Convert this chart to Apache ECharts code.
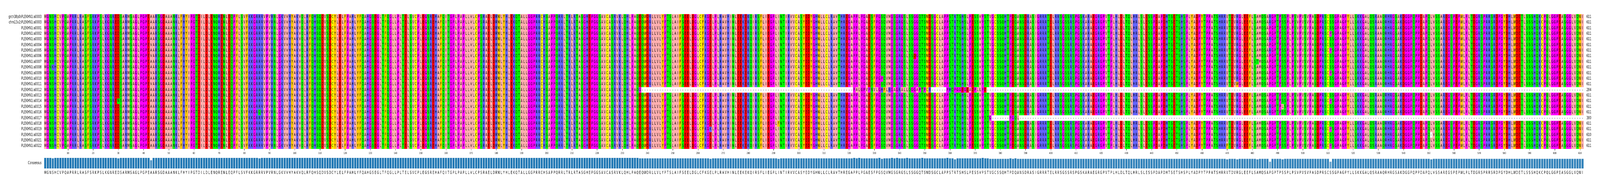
<!DOCTYPE html>
<html><head><meta charset="utf-8">
<style>html,body{margin:0;padding:0;background:#fff;overflow:hidden}#c{width:6400px;height:481px;transform-origin:0 0}</style>
<script src="https://cdn.jsdelivr.net/npm/echarts@6/dist/echarts.min.js"></script>
</head><body><div id="c"></div>
<script>
const rowLabels = ["grch38p0:PLEKHN1:a0003","chm13v2:PLEKHN1:a0003","PLEKHN1:a0001","PLEKHN1:a0002","PLEKHN1:a0003","PLEKHN1:a0004","PLEKHN1:a0005","PLEKHN1:a0006","PLEKHN1:a0007","PLEKHN1:a0008","PLEKHN1:a0009","PLEKHN1:a0010","PLEKHN1:a0011","PLEKHN1:a0012","PLEKHN1:a0013","PLEKHN1:a0014","PLEKHN1:a0015","PLEKHN1:a0016","PLEKHN1:a0017","PLEKHN1:a0018","PLEKHN1:a0019","PLEKHN1:a0020","PLEKHN1:a0021","PLEKHN1:a0022"];
const rowLengths = ["611","611","611","611","611","611","611","611","611","611","611","611","611","284","611","611","611","611","380","611","611","610","611","611"];
const consensusParts = [
"MGNSHCVPQAPRRLRASFSRKPSLKGNREDSARMSAGLPGPEAARSGDAAANKLFHYIPGTDILDLENQRENLEQPFLSVFKKGRRRVPVRNLGKVVHYA",
"KVQLRFQHSQDVSDCYLELFPAHLYFQAHGSEGLTFQGLLPLTELSVCPLEGSREHAFQITGPLPAPLLVLCPSRAELDRWLYHLEKQTALLGGPRRCHS",
"APPQRRLTRLRTASGHEPGGSAVCASRVKLQHLPAQEQWDRLLVLYPTSLAIFSEELDGLCFKGELPLRAVHINLEEKEKQIRSFLIEGPLINTIRVVCA",
"SYEDYGHWLLCLRAVTHREGAPPLPGAESFPGSQVMGSGRGSLSSGGQTSWDSGCLAPPSTRTSHSLPESSVPSTVGCSSQHTPDQANSDRASIGRRRTE",
"LRRSGSSRSPGSKARAEGRGPVTPLHLDLTQLHRLSLESSPDAPDHTSETSHSPLYADPYTPPATSHRRVTDVRGLEEFLSAMQSAPGPTPSSPLPSVPV",
"SVPASDPRSCSSGPAGPYLLSKKGALQSRAAQRHRGSAKDGGPQPPDAPQLVSSAREGSPEPWLPLTDGRSPRRSRDPGYDHLWDETLSSSHQKCPQLGGPEASGGLVQWI"
];
// [row, first column (1-based), residues replacing the consensus there]
const changes = [
[9,4,"K"],[15,30,"N"],[17,86,"Q"],
[5,43,"V"],[7,43,"V"],[10,43,"V"],[12,43,"V"],[19,43,"V"],
[20,265,"K"],[19,292,"F"],
[11,333,"P"],[22,340,"Q"],[7,346,"D"],[11,362,"H"],[14,362,"H"],
[13,237,"G"],[13,322,"PALGPVPNVLGHFLRGAGRALLQGGAPTPCR"],[13,359,"PHQPGGEGEADPLLPD"],
[18,376,"G"],[18,384,"PGQL"],
[23,470,"F"],[12,474,"W"],[8,482,"T"],[16,492,"L"],
[0,487,"R"],[1,487,"R"],[4,487,"R"],[6,487,"R"],[16,487,"R"],[17,487,"R"],
[3,511,"P"],[6,511,"P"],[10,511,"P"],[15,511,"P"],[20,511,"P"],[23,511,"P"]
];
// [row, first column, last column] of alignment gaps
const gaps = [[13,238,321],[13,353,358],[13,375,611],[18,377,383],[18,388,611],[21,551,551]];
const zappo = {A:"#ffafaf",I:"#ffafaf",L:"#ffafaf",M:"#ffafaf",V:"#ffafaf",F:"#ffc800",W:"#ffc800",Y:"#ffc800",K:"#6464ff",R:"#6464ff",H:"#6464ff",D:"#ff0000",E:"#ff0000",S:"#00ff00",T:"#00ff00",N:"#00ff00",Q:"#00ff00",P:"#ff00ff",G:"#ff00ff",C:"#ffff00","-":"#ffffff"};

const consensus = consensusParts.join("").split("");
const columns = consensus.map((_, i) => String(i + 1));
const rows = rowLabels.map(() => consensus.slice());
changes.forEach(([r, c, s]) => s.split("").forEach((ch, k) => { rows[r][c - 1 + k] = ch; }));
gaps.forEach(([r, a, b]) => { for (let c = a; c <= b; c++) rows[r][c - 1] = "-"; });
const cells = [];
rows.forEach((seq, r) => seq.forEach((ch, c) => cells.push([c, r, ch])));
const identity = consensus.map((ch, c) => rows.filter(s => s[c] === ch).length / rows.length * 100);

// The browser window can be narrower than the 6400px page: fit the page to it.
const host = document.getElementById("c");
host.style.transform = "scaleX(" + Math.min(1, window.innerWidth / 6400) + ")";

const FONT = "DejaVu Sans";
const chart = echarts.init(host, null, {renderer: "canvas", width: 6400, height: 481});
chart.setOption({
  animation: false,
  backgroundColor: "#fff",
  grid: [
    {left: 176, top: 36, width: 6159, height: 345, containLabel: false},
    {left: 176, top: 403, width: 6159, height: 29, containLabel: false}
  ],
  xAxis: [
    {type: "category", gridIndex: 0, data: columns, position: "bottom", boundaryGap: true,
     axisLine: {show: false},
     axisTick: {show: true, alignWithLabel: true, length: 4, lineStyle: {color: "#000", width: 1},
       interval: i => (i + 1) % 10 === 0},
     axisLabel: {show: true, margin: 8, fontFamily: FONT, fontSize: 7, color: "#000", hideOverlap: false,
       interval: i => (i + 1) % 10 === 0}},
    {type: "category", gridIndex: 1, data: consensus, position: "bottom", boundaryGap: true,
     axisLine: {show: false}, axisTick: {show: false},
     axisLabel: {show: true, interval: 0, hideOverlap: false, margin: 5, fontFamily: FONT, fontSize: 10, color: "#000"}}
  ],
  yAxis: [
    {type: "category", gridIndex: 0, data: rowLabels, inverse: true, position: "left",
     axisLine: {show: false}, axisTick: {show: false},
     axisLabel: {show: true, interval: 0, margin: 10, fontFamily: FONT, fontSize: 10, color: "#000"}},
    {type: "category", gridIndex: 0, data: rowLengths, inverse: true, position: "right",
     axisLine: {show: false}, axisTick: {show: false},
     axisLabel: {show: true, interval: 0, margin: 11, fontFamily: FONT, fontSize: 10, color: "#000"}},
    {type: "value", gridIndex: 1, min: 0, max: 100, show: false},
    {type: "category", gridIndex: 1, data: ["Consensus"], position: "left",
     axisLine: {show: false}, axisTick: {show: false},
     axisLabel: {show: true, margin: 10, padding: [5, 0, 0, 0], fontFamily: FONT, fontSize: 10, color: "#000"}}
  ],
  series: [
    {type: "custom", xAxisIndex: 0, yAxisIndex: 0, coordinateSystem: "cartesian2d", silent: true,
     encode: {x: 0, y: 1}, data: cells, progressive: 0,
     renderItem: (params, api) => {
       const p = api.coord([api.value(0), api.value(1)]);
       const s = api.size([1, 1]);
       const ch = cells[params.dataIndex][2];
       const x0 = Math.round(p[0] - s[0] / 2), x1 = Math.round(p[0] + s[0] / 2);
       const y0 = Math.round(p[1] - s[1] / 2), y1 = Math.round(p[1] + s[1] / 2);
       return {type: "group", children: [
         {type: "rect", shape: {x: x0, y: y0, width: x1 - x0, height: y1 - y0}, style: {fill: zappo[ch] || "#fff"}},
         {type: "text", style: {text: ch, x: p[0], y: p[1], align: "center", verticalAlign: "middle",
           font: "10px '" + FONT + "'", fill: "#000"}}
       ]};
     }},
    {type: "bar", xAxisIndex: 1, yAxisIndex: 2, barWidth: "100%", silent: true,
     data: identity.map(v => ({value: v, itemStyle: {color: "rgba(31,119,180," + (v / 100) + ")", borderColor: "#fff", borderWidth: 1}}))}
  ]
});
</script></body></html>
